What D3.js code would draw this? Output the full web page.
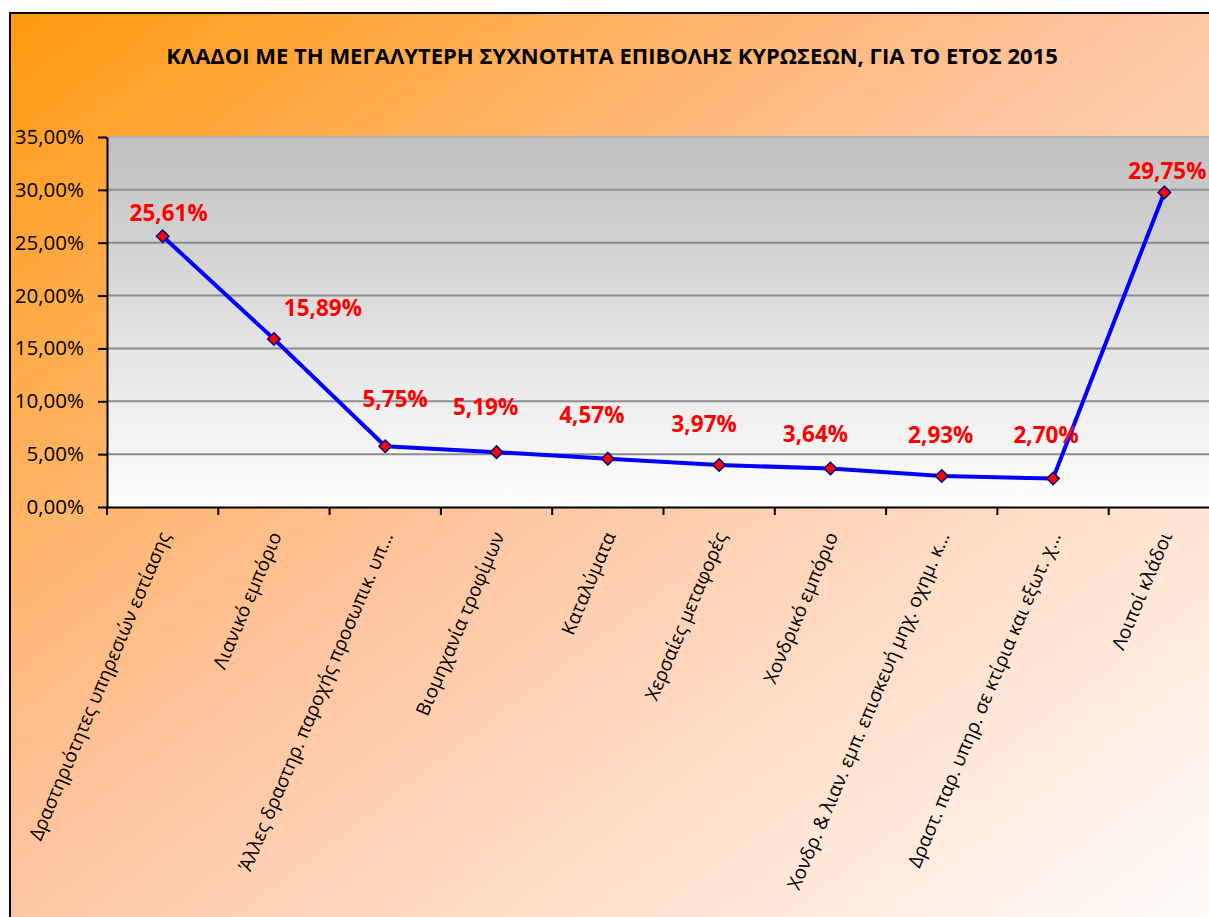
<html>
  <head>
    <meta charset="UTF-8">
    <script src="https://d3js.org/d3.v7.min.js"></script>
    <style>
      body {
        margin: 0;
        background: #fff;
      }
      text { fill: #000; font-family: "Open Sans", "Noto Sans", sans-serif; }
      .title { font-weight: bold; font-size: 22px; }
      .ytick text { font-size: 20.5px; }
      .xtick text { font-size: 19px; }
      .value { fill: #ff0000; font-weight: bold; font-size: 22.5px; }
    </style>
  </head>
  <body>
    <svg width="1209" height="917"></svg>
    <script>
      const categories = [
        "Δραστηριότητες υπηρεσιών εστίασης",
        "Λιανικό εμπόριο",
        "Άλλες δραστηρ. παροχής προσωπικ. υπ...",
        "Βιομηχανία τροφίμων",
        "Καταλύματα",
        "Χερσαίες μεταφορές",
        "Χονδρικό εμπόριο",
        "Χονδρ. & λιαν. εμπ. επισκευή μηχ. οχημ. κ...",
        "Δραστ. παρ. υπηρ. σε κτίρια και εξωτ. χ...",
        "Λοιποί κλάδοι"
      ];
      const values = [0.2561, 0.1589, 0.0575, 0.0519, 0.0457, 0.0397, 0.0364, 0.0293, 0.0270, 0.2975];
      const yTicks = [0, 0.05, 0.10, 0.15, 0.20, 0.25, 0.30, 0.35];

      // data label nudges (Excel had them dragged around by hand)
      const labelDx = [6, 49, 10, -11, -16, -15, -15, -1, -7, 3];
      const labelDy = [-23, -31, -47, -45, -44, -41, -34, -41, -43, -21];

      const gr = d3.formatLocale({decimal: ",", thousands: ".", grouping: [3], currency: ["", "€"]});
      const pct = gr.format(".2%");

      const svg = d3.select("svg");
      const W = 1209, H = 917;
      const plot = {left: 107, top: 137, right: 1220, bottom: 507};

      const defs = svg.append("defs");
      const bg = defs.append("linearGradient").attr("id", "bg")
        .attr("x1", "0").attr("y1", "0").attr("x2", "1").attr("y2", "1");
      bg.append("stop").attr("offset", "0%").attr("stop-color", "#ff9a0e");
      bg.append("stop").attr("offset", "45%").attr("stop-color", "#ffc49e");
      bg.append("stop").attr("offset", "100%").attr("stop-color", "#ffffff");

      const pg = defs.append("linearGradient").attr("id", "pg")
        .attr("x1", "0").attr("y1", "0").attr("x2", "0").attr("y2", "1");
      pg.append("stop").attr("offset", "0%").attr("stop-color", "#c0c0c0");
      pg.append("stop").attr("offset", "100%").attr("stop-color", "#ffffff");

      svg.append("rect")
        .attr("x", 10).attr("y", 13).attr("width", W + 20).attr("height", H + 20)
        .attr("fill", "url(#bg)").attr("stroke", "#000").attr("stroke-width", 2);

      svg.append("text").attr("class", "title")
        .attr("x", 612).attr("y", 64).attr("text-anchor", "middle")
        .text("ΚΛΑΔΟΙ ΜΕ ΤΗ ΜΕΓΑΛΥΤΕΡΗ ΣΥΧΝΟΤΗΤΑ ΕΠΙΒΟΛΗΣ ΚΥΡΩΣΕΩΝ, ΓΙΑ ΤΟ ΕΤΟΣ 2015");

      const x = d3.scaleBand().domain(categories).range([plot.left, plot.right]);
      const y = d3.scaleLinear().domain([0, 0.35]).range([plot.bottom, plot.top]);

      svg.append("rect")
        .attr("x", plot.left).attr("y", plot.top)
        .attr("width", plot.right - plot.left).attr("height", plot.bottom - plot.top)
        .attr("fill", "url(#pg)");

      svg.append("g")
        .selectAll("line")
        .data(yTicks.slice(1))
        .join("line")
          .attr("x1", plot.left).attr("x2", plot.right)
          .attr("y1", (d) => y(d)).attr("y2", (d) => y(d))
          .attr("stroke", (d) => d === 0.35 ? "#b0b0b0" : "#8c8c8c")
          .attr("stroke-width", 2);

      const yAxis = svg.append("g")
        .attr("class", "ytick")
        .attr("transform", `translate(${plot.left},0)`)
        .call(d3.axisLeft(y).tickValues(yTicks).tickFormat(pct).tickSize(9).tickPadding(14).tickSizeOuter(0));
      yAxis.select(".domain").attr("stroke-width", 2);
      yAxis.selectAll(".tick line").attr("stroke-width", 2);

      const xAxis = svg.append("g")
        .attr("transform", `translate(0,${plot.bottom})`)
        .call(d3.axisBottom(x).tickSize(0).tickFormat(""));
      xAxis.select(".domain").attr("stroke-width", 2);
      xAxis.selectAll(".tick").remove();

      // tick marks on the band edges
      svg.append("g")
        .selectAll("line")
        .data(categories)
        .join("line")
          .attr("x1", (d) => x(d)).attr("x2", (d) => x(d))
          .attr("y1", plot.bottom).attr("y2", plot.bottom + 8)
          .attr("stroke", "#000").attr("stroke-width", 2);

      svg.append("g")
        .attr("class", "xtick")
        .selectAll("text")
        .data(categories)
        .join("text")
          .attr("transform", (d) => `translate(${x(d) + x.bandwidth() / 2 + 2},${plot.bottom + 26}) rotate(-67)`)
          .attr("text-anchor", "end")
          .attr("dy", "0.35em")
          .text((d) => d);

      const line = d3.line()
        .x((d, i) => x(categories[i]) + x.bandwidth() / 2)
        .y((d) => y(d));

      svg.append("path")
        .datum(values)
        .attr("d", line)
        .attr("fill", "none")
        .attr("stroke", "#0000ff")
        .attr("stroke-width", 4)
        .attr("stroke-linejoin", "round");

      svg.append("g")
        .selectAll("path")
        .data(values)
        .join("path")
          .attr("d", d3.symbol(d3.symbolDiamond2, 100))
          .attr("transform", (d, i) => `translate(${x(categories[i]) + x.bandwidth() / 2},${y(d)})`)
          .attr("fill", "#ff0000")
          .attr("stroke", "#000080")
          .attr("stroke-width", 1.5);

      svg.append("g")
        .selectAll("text")
        .data(values)
        .join("text")
          .attr("class", "value")
          .attr("x", (d, i) => x(categories[i]) + x.bandwidth() / 2 + labelDx[i])
          .attr("y", (d, i) => y(d) + labelDy[i])
          .attr("dy", "0.35em")
          .attr("text-anchor", "middle")
          .text((d) => pct(d));
    </script>
  </body>
</html>
